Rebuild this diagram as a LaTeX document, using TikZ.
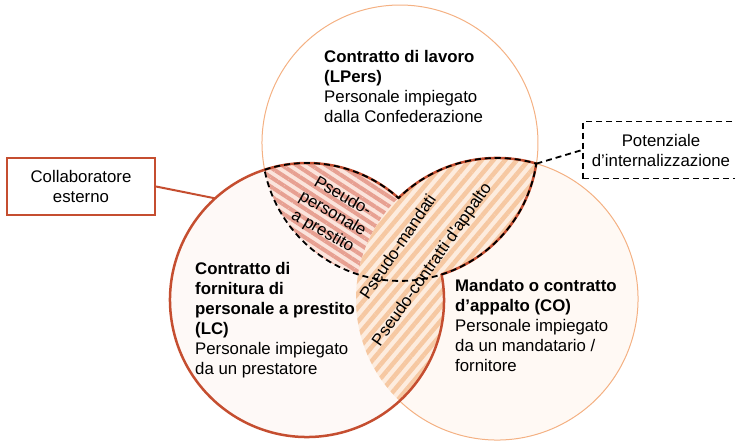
\documentclass[tikz,border=0pt]{standalone}
\usepackage{fontspec}
\setmainfont{Liberation Sans}
\usetikzlibrary{patterns.meta}
\definecolor{lcred}{RGB}{197,78,48}
\definecolor{thinorange}{RGB}{244,177,131}
\definecolor{lcfill}{RGB}{254,249,247}
\definecolor{cofill}{RGB}{255,249,244}
\definecolor{redstripe}{RGB}{231,160,146}
\definecolor{redbg}{RGB}{251,228,220}
\definecolor{orangestripe}{RGB}{246,200,162}
\definecolor{orangebg}{RGB}{253,236,222}
\tikzset{
  thinring/.style={draw=thinorange, line width=1pt},
  redline/.style={draw=lcred, line width=2.5pt, line join=round},
  dashline/.style={draw=black, line width=1.8pt, dash pattern=on 6pt off 4pt},
  labeltext/.style={inner sep=0pt, align=left, anchor=north west,
    font=\fontsize{16.8}{20}\selectfont},
  regiontext/.style={inner sep=0pt, align=center,
    font=\fontsize{16.8}{20}\selectfont},
  callout/.style={rectangle, inner sep=0pt, align=center, minimum height=57pt,
    font=\fontsize{16.8}{20}\selectfont},
  redhatch/.style={pattern={Lines[angle=-33,distance=8pt,line width=4pt]},
    pattern color=redstripe},
  orangehatch/.style={pattern={Lines[angle=50,distance=9pt,line width=4.5pt]},
    pattern color=orangestripe},
}

\begin{document}
\begin{tikzpicture}[x=1pt, y=-1pt]
  \useasboundingbox (0,0) rectangle (735,440);
  \coordinate (tc) at (400,143);
  \coordinate (lc) at (307,300);
  \coordinate (rc) at (497,299);

  % circle fills
  \fill[lcfill] (lc) circle[radius=137];
  \fill[cofill] (rc) circle[radius=141];

  % hatched overlaps
  \begin{scope}
    \clip (tc) circle[radius=138];
    \clip (lc) circle[radius=137];
    \fill[redbg] (0,0) rectangle (735,440);
    \fill[redhatch] (0,0) rectangle (735,440);
  \end{scope}
  \begin{scope}
    \clip (rc) circle[radius=141];
    \clip (tc) circle[radius=138];
    \fill[orangebg] (0,0) rectangle (735,440);
    \fill[orangehatch] (0,0) rectangle (735,440);
  \end{scope}
  \begin{scope}
    \clip (rc) circle[radius=141];
    \clip (lc) circle[radius=137];
    \fill[orangebg] (0,0) rectangle (735,440);
    \fill[orangehatch] (0,0) rectangle (735,440);
  \end{scope}

  % outlines
  \draw[thinring] (tc) ++(168.8:138) arc[start angle=168.8, end angle=368.6, radius=138];
  \draw[thinring] (rc) ++(-73.8:141) arc[start angle=-73.8, end angle=133.7, radius=141];
  \draw[redline] (lc) ++(-10.7:137) arc[start angle=-10.7, end angle=311.9, radius=137]
    arc[start angle=225.7, end angle=286.2, radius=141]
    arc[start angle=8.6, end angle=72.5, radius=138] -- cycle;
  \draw[dashline] (lc) ++(252:137) arc[start angle=252, end angle=311.9, radius=137]
    arc[start angle=225.7, end angle=286.2, radius=141]
    arc[start angle=8.6, end angle=168.8, radius=138] -- cycle;

  % callouts
  \node[callout, draw=lcred, line width=2pt, minimum width=148pt]
    (collab) at (81,186.5) {Collaboratore\\esterno};
  \path (lc) ++(227.9:137) coordinate (lcedge);
  \draw[lcred, line width=2pt] (collab.east) -- (lcedge);
  \node[callout, dashline, minimum width=156pt]
    (potenz) at (661,150) {Potenziale\\d’internalizzazione};
  \path (tc) ++(8.6:138) coordinate (tcrc);
  \draw[dashline] (tcrc) -- (potenz.west);

  % texts
  \node[labeltext] (lperstext) at (324,50.6)
    {\textbf{Contratto di lavoro}\\\textbf{(LPers)}\\Personale impiegato\\dalla Confederazione};
  \node[labeltext] (lctext) at (195,261.7)
    {\textbf{Contratto di}\\\textbf{fornitura di}\\\textbf{personale a prestito}\\\textbf{(LC)}\\Personale impiegato\\da un prestatore};
  \node[labeltext] (cotext) at (455,279.3)
    {\textbf{Mandato o contratto}\\\textbf{d’appalto (CO)}\\Personale impiegato\\da un mandatario /\\fornitore};
  \node[regiontext, rotate=-30] (pseudolc) at (332.5,214.2) {Pseudo-\\personale\\a prestito};
  \node[regiontext, rotate=56] (pseudoman) at (397.5,246.6) {Pseudo-mandati};
  \node[regiontext, rotate=55] (pseudoco) at (432.5,264.8) {Pseudo-contratti d\textquotesingle appalto};
\end{tikzpicture}
\end{document}
